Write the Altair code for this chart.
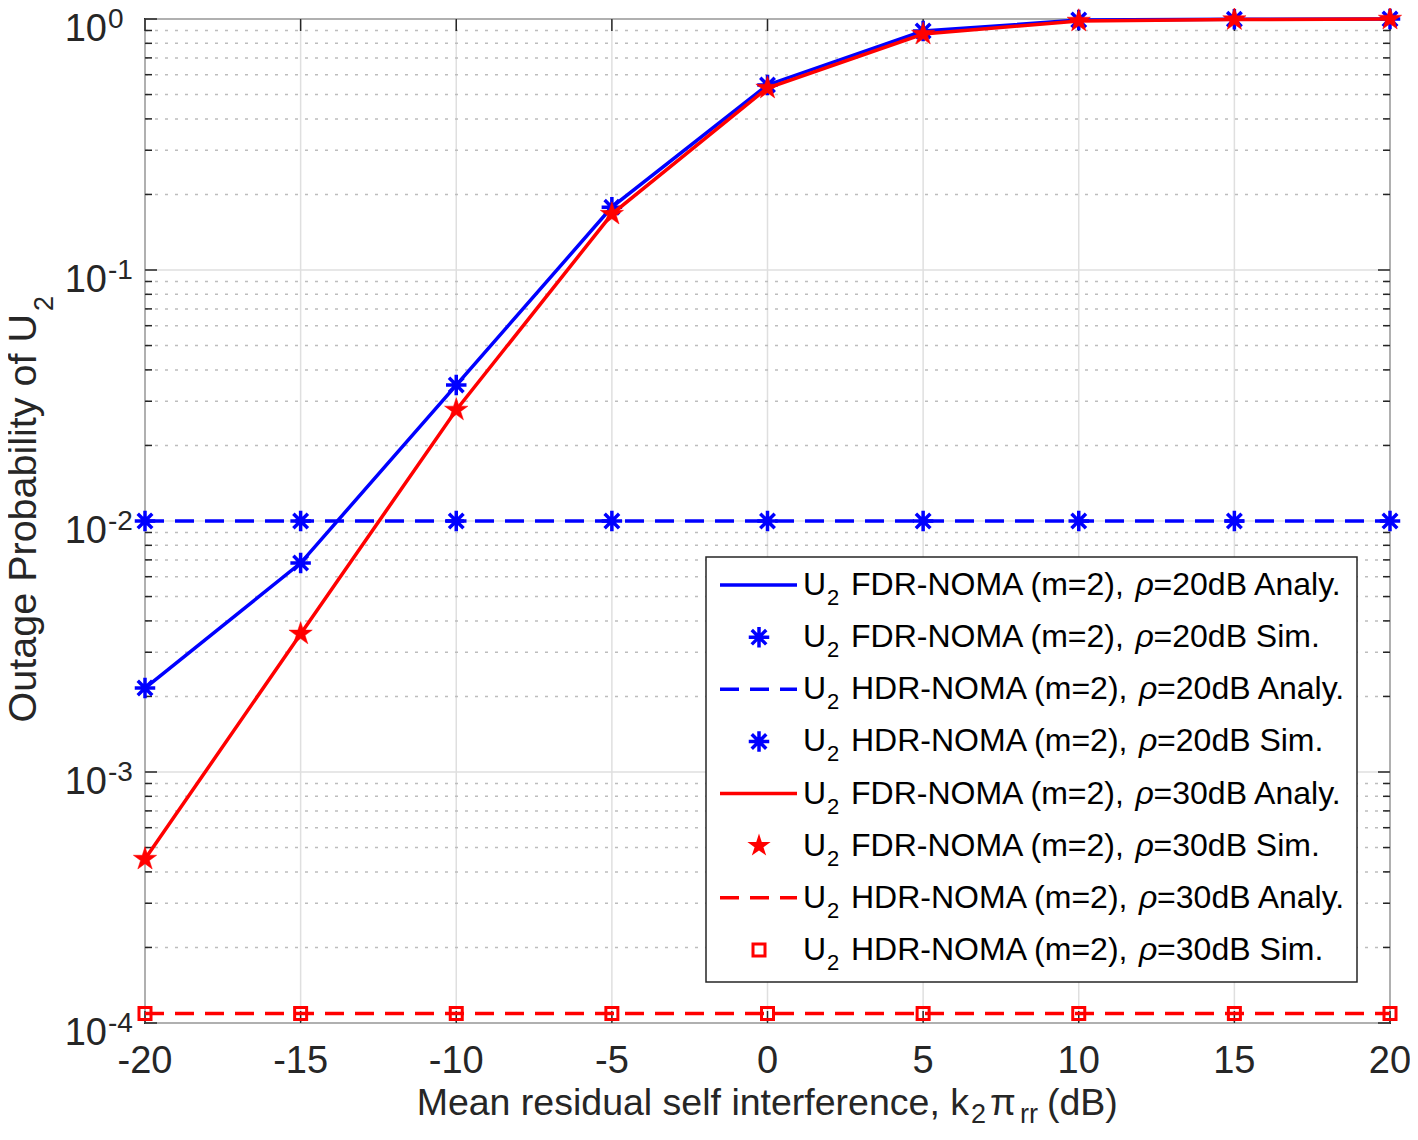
import altair as alt
import pandas as pd
import numpy as np

# ---------------- data ----------------
x_db = [-20, -15, -10, -5, 0, 5, 10, 15, 20]
fdr_rho20 = [2.16e-3, 6.8e-3, 3.48e-2, 0.178, 0.546, 0.895, 0.990, 0.998, 1.0]
hdr_rho20 = [1.0e-2, 1.0e-2, 1.0e-2, 1.0e-2, 1.0e-2, 1.0e-2, 1.0e-2, 1.0e-2, 1.0e-2]
fdr_rho30 = [4.5e-4, 3.55e-3, 2.77e-2, 0.167, 0.531, 0.871, 0.982, 0.995, 1.0]
hdr_rho30 = [1.09e-4, 1.09e-4, 1.09e-4, 1.09e-4, 1.09e-4, 1.09e-4, 1.09e-4, 1.09e-4, 1.09e-4]

x_ticks = [-20, -15, -10, -5, 0, 5, 10, 15, 20]
x_tick_labels = ["-20", "-15", "-10", "-5", "0", "5", "10", "15", "20"]
y_decades = [1e-4, 1e-3, 1e-2, 1e-1, 1.0]
y_exponents = ["-4", "-3", "-2", "-1", "0"]
y_minor_mult = [2, 3, 4, 5, 6, 7, 8, 9]

legend_prefix = ["FDR-NOMA (m=2), ", "FDR-NOMA (m=2), ", "HDR-NOMA (m=2), ", "HDR-NOMA (m=2), ",
                 "FDR-NOMA (m=2), ", "FDR-NOMA (m=2), ", "HDR-NOMA (m=2), ", "HDR-NOMA (m=2), "]
legend_suffix = ["=20dB Analy.", "=20dB Sim.", "=20dB Analy.", "=20dB Sim.",
                 "=30dB Analy.", "=30dB Sim.", "=30dB Analy.", "=30dB Sim."]
legend_color = ["#0000ff", "#0000ff", "#0000ff", "#0000ff", "#ff0000", "#ff0000", "#ff0000", "#ff0000"]
legend_kind = ["solid", "asterisk", "dash", "asterisk", "solid", "star", "dash", "square"]

y_title = "Outage Probability of U"
x_title_main = "Mean residual self interference, k"

# ---------------- layout / style ----------------
W, H = 1245, 1004
FONT = "Liberation Sans"
AX = "#262626"
BLUE, RED = "#0000ff", "#ff0000"
LW = 3.5
DASH = [19, 11]

xs = alt.Scale(domain=[-20, 20], nice=False, zero=False)
ys = alt.Scale(type="log", domain=[1e-4, 1.0], nice=False)

AW = {'F': 611, 'D': 722, 'R': 722, '-': 333, 'N': 722, 'O': 778, 'M': 833, 'A': 667,
      ' ': 278, '(': 333, 'm': 833, '=': 584, '2': 556, ')': 333, ',': 278, 'H': 722}


def tw(s, fs):
    return sum(AW.get(c, 556) for c in s) / 1000.0 * fs


ASTERISK = ("M0,-1L0,1M-1,0L1,0M-0.7071,-0.7071L0.7071,0.7071"
            "M-0.7071,0.7071L0.7071,-0.7071")
ang = np.deg2rad(-90 + 36 * np.arange(10))
rad = np.where(np.arange(10) % 2 == 0, 1.0, 0.382)
STAR = "M" + "L".join(f"{r*np.cos(a):.4f},{r*np.sin(a):.4f}" for r, a in zip(rad, ang)) + "Z"

layers = []

# grid
df_xg = pd.DataFrame({"x": x_ticks})
layers.append(alt.Chart(df_xg).mark_rule(color="#dfdfdf", strokeWidth=1.5).encode(
    x=alt.X("x:Q", scale=xs, axis=None), y=alt.value(0), y2=alt.value(H)))
df_yg = pd.DataFrame({"y": y_decades})
layers.append(alt.Chart(df_yg).mark_rule(color="#dfdfdf", strokeWidth=1.5).encode(
    y=alt.Y("y:Q", scale=ys, axis=None), x=alt.value(0), x2=alt.value(W)))
minor_vals = [m * d for d in y_decades[:-1] for m in y_minor_mult]
df_ym = pd.DataFrame({"y": minor_vals})
layers.append(alt.Chart(df_ym).mark_rule(color="#bdbdbd", strokeWidth=1.5, strokeDash=[3, 7]).encode(
    y=alt.Y("y:Q", scale=ys, axis=None), x=alt.value(0), x2=alt.value(W)))

# ticks (inward)
tk = dict(color=AX, strokeWidth=1.5)
layers.append(alt.Chart(df_xg).mark_rule(**tk).encode(
    x=alt.X("x:Q", scale=xs, axis=None), y=alt.value(H), y2=alt.value(H - 12)))
layers.append(alt.Chart(df_xg).mark_rule(**tk).encode(
    x=alt.X("x:Q", scale=xs, axis=None), y=alt.value(0), y2=alt.value(12)))
layers.append(alt.Chart(df_yg).mark_rule(**tk).encode(
    y=alt.Y("y:Q", scale=ys, axis=None), x=alt.value(0), x2=alt.value(12)))
layers.append(alt.Chart(df_yg).mark_rule(**tk).encode(
    y=alt.Y("y:Q", scale=ys, axis=None), x=alt.value(W), x2=alt.value(W - 12)))
layers.append(alt.Chart(df_ym).mark_rule(**tk).encode(
    y=alt.Y("y:Q", scale=ys, axis=None), x=alt.value(0), x2=alt.value(7)))
layers.append(alt.Chart(df_ym).mark_rule(**tk).encode(
    y=alt.Y("y:Q", scale=ys, axis=None), x=alt.value(W), x2=alt.value(W - 7)))


# series
def series_df(vals):
    return pd.DataFrame({"x": x_db, "y": vals})


def line(vals, color, dash=None):
    kw = dict(color=color, strokeWidth=LW, clip=False)
    if dash:
        kw["strokeDash"] = dash
    return alt.Chart(series_df(vals)).mark_line(**kw).encode(
        x=alt.X("x:Q", scale=xs, axis=None), y=alt.Y("y:Q", scale=ys, axis=None))


def pts(vals, shape, color, size, filled, sw=2.5):
    kw = dict(shape=shape, size=size, opacity=1, clip=False)
    if filled:
        kw.update(filled=True, fill=color, stroke=color, strokeWidth=0.5)
    else:
        kw.update(filled=False, stroke=color, strokeWidth=sw)
    return alt.Chart(series_df(vals)).mark_point(**kw).encode(
        x=alt.X("x:Q", scale=xs, axis=None), y=alt.Y("y:Q", scale=ys, axis=None))


layers += [
    line(fdr_rho20, BLUE), pts(fdr_rho20, ASTERISK, BLUE, 420, False, 3.5),
    line(hdr_rho20, BLUE, DASH), pts(hdr_rho20, ASTERISK, BLUE, 420, False, 3.5),
    line(fdr_rho30, RED), pts(fdr_rho30, STAR, RED, 600, True),
    line(hdr_rho30, RED, DASH), pts(hdr_rho30, "square", RED, 144, False, 3),
]

# x tick labels
df_xl = pd.DataFrame({"x": x_ticks, "lab": x_tick_labels})
layers.append(alt.Chart(df_xl).mark_text(font=FONT, fontSize=38, color=AX, align="center",
                                          baseline="alphabetic").encode(
    x=alt.X("x:Q", scale=xs, axis=None), y=alt.value(H + 50), text="lab:N"))

# y tick labels 10^e
df_yl = pd.DataFrame({"y": y_decades, "base": ["10"] * len(y_decades), "exp": y_exponents})
layers.append(alt.Chart(df_yl).mark_text(font=FONT, fontSize=38, color=AX, align="right",
                                          baseline="alphabetic", dy=22).encode(
    y=alt.Y("y:Q", scale=ys, axis=None), x=alt.value(-38), text="base:N"))
layers.append(alt.Chart(df_yl).mark_text(font=FONT, fontSize=28, color=AX, align="left",
                                          baseline="alphabetic", dy=9).encode(
    y=alt.Y("y:Q", scale=ys, axis=None), x=alt.value(-37), text="exp:N"))

# axis titles
one = pd.DataFrame({"a": [0]})


def txt(s, x, y, fs, align="left", angle=0, style="normal", color=AX):
    kw = dict(font=FONT, fontSize=fs, color=color, align=align, baseline="alphabetic",
              fontStyle=style)
    if angle:
        kw["angle"] = angle
    return alt.Chart(one).mark_text(**kw).encode(x=alt.value(x), y=alt.value(y), text=alt.value(s))


layers += [
    txt(x_title_main, 824, 1096, 37.5, align="right"),
    txt("2", 826, 1104, 27),
    txt("π", 845, 1096, 37.5),
    txt("rr", 875, 1104, 27),
    txt("(dB)", 902, 1096, 37.5),
    txt(y_title, -109, 295, 39.5, align="right", angle=270),
    txt("2", -92, 292, 27, angle=270),
]

# legend
LX0, LX1, LY0, LY1 = 561, 1212, 538, 963
layers.append(alt.Chart(one).mark_rect(fill="white", stroke=AX, strokeWidth=1.5).encode(
    x=alt.value(LX0), x2=alt.value(LX1), y=alt.value(LY0), y2=alt.value(LY1)))

rows = []
for i in range(8):
    rx = 706 + tw(legend_prefix[i], 32) + 1
    rows.append(dict(ly=566 + 52.14 * i, pre=legend_prefix[i], suf=legend_suffix[i],
                     col=legend_color[i], kind=legend_kind[i], rhox=rx, sufx=rx + 18))
dleg = pd.DataFrame(rows)

ypix = alt.Y("ly:Q", scale=None)
layers.append(alt.Chart(dleg).transform_filter("datum.kind == 'solid'").mark_rule(strokeWidth=LW).encode(
    y=ypix, x=alt.value(575), x2=alt.value(652), color=alt.Color("col:N", scale=None)))
layers.append(alt.Chart(dleg).transform_filter("datum.kind == 'dash'").mark_rule(
    strokeWidth=LW, strokeDash=DASH).encode(
    y=ypix, x=alt.value(575), x2=alt.value(652), color=alt.Color("col:N", scale=None)))
layers.append(alt.Chart(dleg).transform_filter("datum.kind == 'asterisk'").mark_point(
    shape=ASTERISK, size=420, filled=False, strokeWidth=3.5, opacity=1).encode(
    y=ypix, x=alt.value(614), stroke=alt.Color("col:N", scale=None)))
layers.append(alt.Chart(dleg).transform_filter("datum.kind == 'star'").mark_point(
    shape=STAR, size=600, filled=True, opacity=1).encode(
    y=ypix, x=alt.value(614), fill=alt.Color("col:N", scale=None)))
layers.append(alt.Chart(dleg).transform_filter("datum.kind == 'square'").mark_point(
    shape="square", size=144, filled=False, strokeWidth=3, opacity=1).encode(
    y=ypix, x=alt.value(614), stroke=alt.Color("col:N", scale=None)))

lt = dict(font=FONT, color="#000000", baseline="alphabetic", align="left")
layers.append(alt.Chart(dleg).mark_text(fontSize=32, dy=10, **lt).encode(
    y=ypix, x=alt.value(658), text=alt.value("U")))
layers.append(alt.Chart(dleg).mark_text(fontSize=22, dy=20, **lt).encode(
    y=ypix, x=alt.value(682), text=alt.value("2")))
layers.append(alt.Chart(dleg).mark_text(fontSize=32, dy=10, **lt).encode(
    y=ypix, x=alt.value(706), text="pre:N"))
layers.append(alt.Chart(dleg).mark_text(fontSize=32, dy=10, fontStyle="italic", **lt).encode(
    y=ypix, x=alt.X("rhox:Q", scale=None), text=alt.value("ρ")))
layers.append(alt.Chart(dleg).mark_text(fontSize=32, dy=10, **lt).encode(
    y=ypix, x=alt.X("sufx:Q", scale=None), text="suf:N"))

chart = alt.layer(*layers).properties(
    width=W, height=H,
    autosize=alt.AutoSizeParams(type="none"),
    padding={"left": 137, "top": 11, "right": 20, "bottom": 105},
    background="white",
).configure_view(stroke=AX, strokeWidth=2)

chart.save("out.html", embed_options={"renderer": "svg", "actions": False})
